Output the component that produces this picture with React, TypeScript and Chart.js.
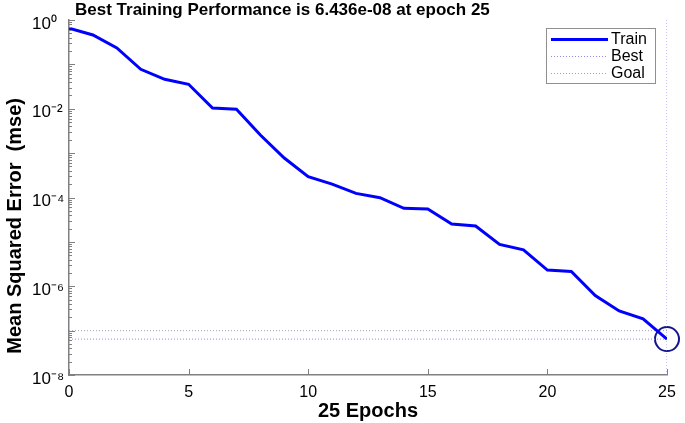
import React, { useEffect, useRef } from "react";
import { Chart, registerables } from "chart.js";

Chart.register(...registerables);

// ---- data ----
const epochs = [0, 1, 2, 3, 4, 5, 6, 7, 8, 9, 10, 11, 12, 13, 14, 15, 16, 17, 18, 19, 20, 21, 22, 23, 24, 25];
const trainMse = [
  0.65, 0.46, 0.234, 0.0774, 0.0461, 0.0356, 0.0104, 0.0097, 0.00256, 7.76e-4,
  2.94e-4, 2.01e-4, 1.24e-4, 9.9e-5, 5.7e-5, 5.5e-5, 2.53e-5, 2.28e-5, 8.8e-6, 6.6e-6,
  2.32e-6, 2.15e-6, 6.2e-7, 2.77e-7, 1.85e-7, 6.436e-8,
];
const bestEpoch = 25;
const bestPerf = 6.436e-8;
const goalPerf = 1e-7;
const yMin = 1e-8;
const yMax = 1;
const xMin = 0;
const xMax = 25;
const xStep = 5;
const yLabelValues = [1e-8, 1e-6, 1e-4, 1e-2, 1];
const yLabelTexts = ["10⁻⁸", "10⁻⁶", "10⁻⁴", "10⁻²", "10⁰"];
const titleText = "Best Training Performance is 6.436e-08 at epoch 25";
const xTitle = "25 Epochs";
const yTitle = "Mean Squared Error  (mse)";
const legendNames = ["Train", "Best", "Goal"];

// ---- styles ----
const FONT = "'Liberation Sans', Arial, Helvetica, sans-serif";
const trainColor = "#0000ff";
const bestColor = "#8c8cf0";
const goalColor = "#a0a0b4";
const circleColor = "#14148c";
const axisColor = "#808080";

function isDecade(v: number) {
  const l = Math.log10(v);
  return Math.abs(l - Math.round(l)) < 1e-6;
}

const decorPlugin = {
  id: "decor",
  afterDraw(chart: any) {
    const ctx = chart.ctx;
    const area = chart.chartArea;
    const xs = chart.scales.x;
    const ys = chart.scales.y;
    ctx.save();
    // inward ticks
    ctx.strokeStyle = axisColor;
    ctx.lineWidth = 1;
    ys.ticks.forEach((t: any) => {
      const py = Math.round(ys.getPixelForValue(t.value)) + 0.5;
      const len = isDecade(t.value) ? 6 : 3;
      ctx.beginPath();
      ctx.moveTo(area.left, py);
      ctx.lineTo(area.left + len, py);
      ctx.stroke();
    });
    xs.ticks.forEach((t: any) => {
      const px = Math.round(xs.getPixelForValue(t.value)) + 0.5;
      ctx.beginPath();
      ctx.moveTo(px, area.bottom);
      ctx.lineTo(px, area.bottom - 6);
      ctx.stroke();
    });

    // title
    ctx.fillStyle = "#000";
    ctx.font = `bold 17px ${FONT}`;
    ctx.textAlign = "left";
    ctx.textBaseline = "middle";
    ctx.fillText(titleText, area.left + 6, 10);

    // y axis title
    ctx.save();
    ctx.translate(15, area.top + (area.bottom - area.top) * 0.58);
    ctx.rotate(-Math.PI / 2);
    ctx.font = `bold 20px ${FONT}`;
    ctx.textAlign = "center";
    ctx.textBaseline = "middle";
    ctx.fillText(yTitle, 0, 0);
    ctx.restore();

    // legend
    const bw = 109;
    const bh = 55;
    const bx = area.right - 12 - bw;
    const by = area.top + 8;
    ctx.fillStyle = "#fff";
    ctx.fillRect(bx, by, bw, bh);
    ctx.strokeStyle = "#909090";
    ctx.lineWidth = 1;
    ctx.strokeRect(bx + 0.5, by + 0.5, bw, bh);
    const rows = [
      { name: legendNames[0], color: trainColor, width: 3, dash: [] as number[] },
      { name: legendNames[1], color: bestColor, width: 1, dash: [1, 2] },
      { name: legendNames[2], color: goalColor, width: 1, dash: [1, 2] },
    ];
    rows.forEach((r, i) => {
      const ry = by + 11 + i * 17;
      ctx.strokeStyle = r.color;
      ctx.lineWidth = r.width;
      ctx.setLineDash(r.dash);
      ctx.beginPath();
      ctx.moveTo(bx + 5, ry + 0.5);
      ctx.lineTo(bx + 62, ry + 0.5);
      ctx.stroke();
      ctx.setLineDash([]);
      ctx.fillStyle = "#000";
      ctx.font = `16px ${FONT}`;
      ctx.textAlign = "left";
      ctx.textBaseline = "middle";
      ctx.fillText(r.name, bx + 65, ry + 1);
    });
    ctx.restore();
  },
};

export default function App() {
  const ref = useRef<HTMLCanvasElement | null>(null);
  useEffect(() => {
    if (!ref.current) return;
    Chart.defaults.font.family = FONT;
    const chart = new Chart(ref.current, {
      type: "line",
      data: {
        datasets: [
          {
            label: legendNames[0],
            data: epochs.map((e, i) => ({ x: e, y: trainMse[i] })),
            borderColor: trainColor,
            borderWidth: 3,
            pointRadius: 0,
            tension: 0,
            fill: false,
          },
          {
            label: legendNames[1],
            data: [
              { x: xMin, y: bestPerf },
              { x: bestEpoch, y: bestPerf },
            ],
            borderColor: bestColor,
            borderWidth: 1,
            borderDash: [1, 2],
            pointRadius: 0,
          },
          {
            label: legendNames[1] + " epoch",
            data: [
              { x: bestEpoch, y: yMin },
              { x: bestEpoch, y: yMax },
            ],
            borderColor: bestColor,
            borderWidth: 1,
            borderDash: [1, 2],
            pointRadius: 0,
          },
          {
            label: legendNames[2],
            data: [
              { x: xMin, y: goalPerf },
              { x: xMax, y: goalPerf },
            ],
            borderColor: goalColor,
            borderWidth: 1,
            borderDash: [1, 2],
            pointRadius: 0,
          },
          {
            label: "Best point",
            data: [{ x: bestEpoch, y: bestPerf }],
            showLine: false,
            pointRadius: 12,
            pointHoverRadius: 12,
            pointStyle: "circle",
            pointBorderColor: circleColor,
            pointBackgroundColor: "rgba(0,0,0,0)",
            pointBorderWidth: 2,
            clip: false,
          } as any,
        ],
      },
      options: {
        animation: false,
        responsive: false,
        maintainAspectRatio: false,
        layout: { padding: { left: 32, right: 18, top: 20, bottom: 0 } },
        plugins: {
          legend: { display: false },
          tooltip: { enabled: false },
          title: { display: false },
        },
        scales: {
          x: {
            type: "linear",
            min: xMin,
            max: xMax,
            ticks: {
              stepSize: xStep,
              color: "#000",
              font: { size: 16 },
              padding: 8,
              maxRotation: 0,
            },
            grid: { display: false, drawTicks: false },
            border: { display: true, color: axisColor, width: 1.5 },
            title: {
              display: true,
              text: xTitle,
              color: "#000",
              font: { size: 20, weight: "bold" },
              padding: { top: 0, bottom: 0 },
            },
            afterFit: (s: any) => {
              s.height = 48;
            },
          },
          y: {
            type: "logarithmic",
            min: yMin,
            max: yMax,
            afterBuildTicks: (s: any) => {
              const vals: number[] = [];
              for (let e = Math.log10(yMin); e < Math.log10(yMax); e++) {
                for (let m = 1; m < 10; m++) vals.push(m * Math.pow(10, e));
              }
              vals.push(yMax);
              s.ticks = vals.map((v) => ({ value: v }));
            },
            ticks: {
              autoSkip: false,
              color: "#000",
              font: { size: 17 },
              crossAlign: "far",
              padding: 2,
              labelOffset: 4,
              callback: (v: any) => {
                const idx = yLabelValues.findIndex((lv) => Math.abs(Math.log10(lv) - Math.log10(Number(v))) < 1e-6);
                return idx >= 0 ? yLabelTexts[idx] : "";
              },
            },
            grid: { display: false, drawTicks: false },
            border: { display: true, color: axisColor, width: 1.5 },
            afterFit: (s: any) => {
              s.width = 37;
            },
          },
        },
      },
      plugins: [decorPlugin],
    });
    return () => chart.destroy();
  }, []);
  return (
    <div style={{ position: "absolute", left: 0, top: 0, width: 685, height: 423, background: "#fff" }}>
      <canvas ref={ref} width={685} height={423} />
    </div>
  );
}
